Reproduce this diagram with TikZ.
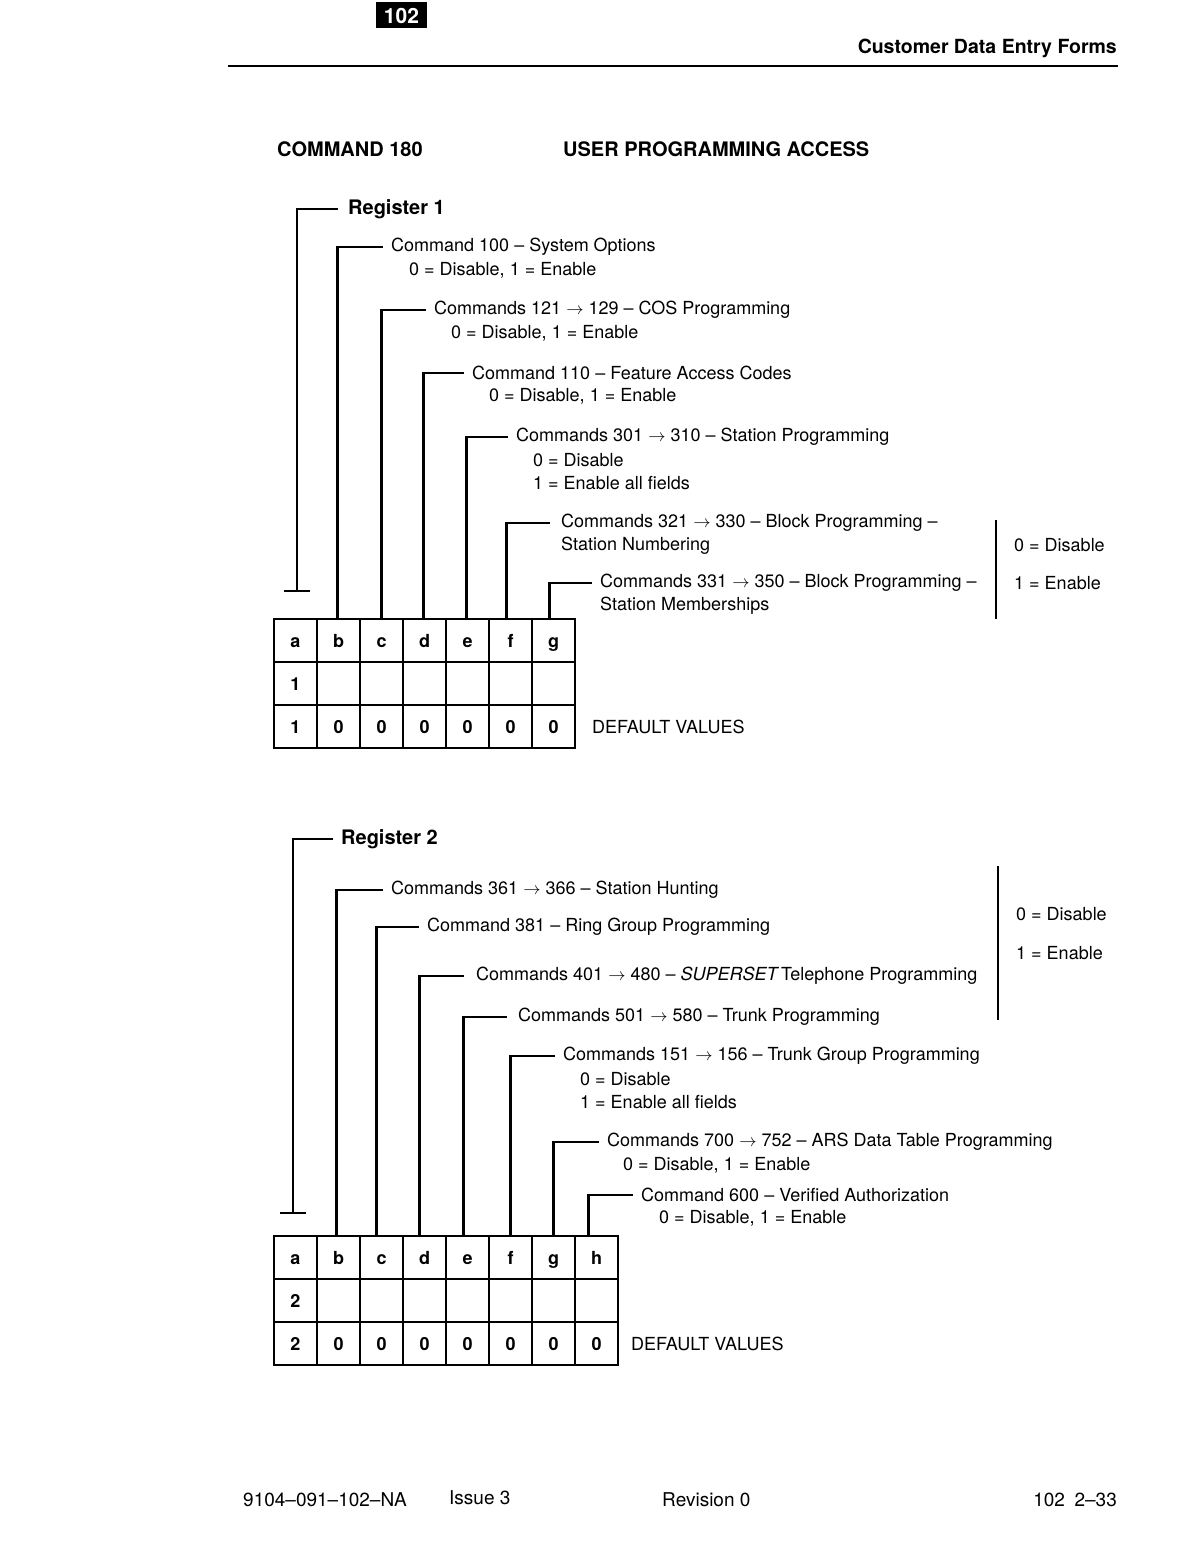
\documentclass[tikz,border=0pt]{standalone}
\usepackage{fontspec}
\setmainfont{TeX Gyre Heros}
\usetikzlibrary{positioning}

\begin{document}
\begin{tikzpicture}[x=1pt, y=-1pt, line width=2.4pt]
    % Stili
    \tikzset{
      txt/.style={anchor=west, inner sep=0pt, font=\fontsize{18}{20}\selectfont},
      bold/.style={anchor=west, inner sep=0pt, font=\fontsize{20}{22}\selectfont\bfseries},
      foot/.style={anchor=west, inner sep=0pt, font=\fontsize{19}{21}\selectfont},
      cell/.style={draw, minimum width=43pt, minimum height=43pt, inner sep=0pt, outer sep=0pt, text height=16pt, text depth=2pt, font=\fontsize{18}{20}\selectfont\bfseries},
      link/.style={line width=2.4pt, shorten >=7pt},
      tbar/.style={line width=2.4pt}
    }
    \useasboundingbox (0,0) rectangle (1192,1568);

    % Intestazione
    \node (badge) [fill=black, text=white, minimum width=51pt, minimum height=26pt, inner sep=0pt, font=\fontsize{21}{22}\selectfont\bfseries] at (401.5,15.5) {102};
    \node (title) [bold, anchor=east, font=\fontsize{19.5}{22}\selectfont\bfseries] at (1118,48) {Customer Data Entry Forms};
    \draw [line width=2pt] (228,66) -- (1118,66);
    \node (cmd) [bold] at (276,149) {COMMAND 180};
    \node (upa) [bold] at (562,149) {USER PROGRAMMING ACCESS};

    % Registro 1 - celle
    \foreach \l [count=\i] in {a,b,c,d,e,f,g} {
      \node (c1-\l) [cell] at (252.5+43*\i,640.5) {\l};
      \node (d1-\l) [cell] at (252.5+43*\i,683.5) {};
      \node (v1-\l) [cell] at (252.5+43*\i,726.5) {0};
    }
    \node at (d1-a) [cell, draw=none] {1};
    \node at (v1-a) [cell, draw=none, fill=white, minimum width=30pt, minimum height=30pt] {1};
    \node (def1) [txt, right=16pt of v1-g] {DEFAULT VALUES};

    % Registro 1 - testi
    \node (reg1) [bold] at (347,209) {Register 1};
    \node (t1b) [txt] at (390,247) {Command 100 -- System Options};
    \node (t1b1) [txt] at (408,270) {0 = Disable, 1 = Enable};
    \node (t1c) [txt] at (433,310) {Commands 121 $\rightarrow$ 129 -- COS Programming};
    \node (t1c1) [txt] at (450,333) {0 = Disable, 1 = Enable};
    \node (t1d) [txt] at (471,373) {Command 110 -- Feature Access Codes};
    \node (t1d1) [txt] at (488,396) {0 = Disable, 1 = Enable};
    \node (t1e) [txt] at (515,437) {Commands 301 $\rightarrow$ 310 -- Station Programming};
    \node (t1e1) [txt] at (532,460) {0 = Disable};
    \node (t1e2) [txt] at (532,483) {1 = Enable all fields};
    \node (t1f) [txt] at (560,523) {Commands 321 $\rightarrow$ 330 -- Block Programming --};
    \node (t1f1) [txt] at (560,546) {Station Numbering};
    \node (t1g) [txt] at (599,583) {Commands 331 $\rightarrow$ 350 -- Block Programming --};
    \node (t1g1) [txt] at (599,606) {Station Memberships};
    \node (o1) [txt] at (1013,545) {0 = Disable};
    \node (e1) [txt] at (1013,583) {1 = Enable};
    \draw (996,520) -- (996,619);

    % Registro 1 - collegamenti
    \coordinate (r1foot) at (297,591);
    \draw [link, shorten >=9pt] (r1foot) |- (reg1.west);
    \draw [tbar] ([xshift=-13pt]r1foot) -- ([xshift=13pt]r1foot);
    \draw [link] ([xshift=-1pt]c1-b.north) |- (t1b.west);
    \draw [link] (c1-c.north) |- (t1c.west);
    \draw [link] ([xshift=-1pt]c1-d.north) |- (t1d.west);
    \draw [link] ([xshift=-1pt]c1-e.north) |- (t1e.west);
    \draw [link, shorten >=10pt] ([xshift=-4pt]c1-f.north) |- (t1f.west);
    \draw [link] ([xshift=-4pt]c1-g.north) |- (t1g.west);

    % Registro 2 - celle
    \foreach \l [count=\i] in {a,b,c,d,e,f,g,h} {
      \node (c2-\l) [cell] at (252.5+43*\i,1257.5) {\l};
      \node (d2-\l) [cell] at (252.5+43*\i,1300.5) {};
      \node (v2-\l) [cell] at (252.5+43*\i,1343.5) {0};
    }
    \node at (d2-a) [cell, draw=none] {2};
    \node at (v2-a) [cell, draw=none, fill=white, minimum width=30pt, minimum height=30pt] {2};
    \node (def2) [txt, right=12pt of v2-h] {DEFAULT VALUES};

    % Registro 2 - testi
    \node (reg2) [bold] at (340,839) {Register 2};
    \node (t2b) [txt] at (390,890) {Commands 361 $\rightarrow$ 366 -- Station Hunting};
    \node (t2c) [txt] at (426,927) {Command 381 -- Ring Group Programming};
    \node (t2d) [txt] at (475,976) {Commands 401 $\rightarrow$ 480 -- \textit{SUPERSET}\hspace{2pt}Telephone Programming};
    \node (t2e) [txt] at (517,1017) {Commands 501 $\rightarrow$ 580 -- Trunk Programming};
    \node (t2f) [txt] at (562,1056) {Commands 151 $\rightarrow$ 156 -- Trunk Group Programming};
    \node (t2f1) [txt] at (579,1079) {0 = Disable};
    \node (t2f2) [txt] at (579,1102) {1 = Enable all fields};
    \node (t2g) [txt] at (606,1142) {Commands 700 $\rightarrow$ 752 -- ARS Data Table Programming};
    \node (t2g1) [txt] at (622,1165) {0 = Disable, 1 = Enable};
    \node (t2h) [txt] at (640,1195) {Command 600 -- Verified Authorization};
    \node (t2h1) [txt] at (658,1218) {0 = Disable, 1 = Enable};
    \node (o2) [txt] at (1015,914) {0 = Disable};
    \node (e2) [txt] at (1015,953) {1 = Enable};
    \draw (998,866) -- (998,1020);

    % Registro 2 - collegamenti
    \coordinate (r2foot) at (293,1213);
    \draw [link] (r2foot) |- (reg2.west);
    \draw [tbar] ([xshift=-13pt]r2foot) -- ([xshift=13pt]r2foot);
    \draw [link] ([xshift=-2pt]c2-b.north) |- (t2b.west);
    \draw [link] ([xshift=-5pt]c2-c.north) |- (t2c.west);
    \draw [link, shorten >=11pt] ([xshift=-5pt]c2-d.north) |- (t2d.west);
    \draw [link, shorten >=10pt] ([xshift=-4pt]c2-e.north) |- (t2e.west);
    \draw [link] (c2-f.north) |- (t2f.west);
    \draw [link] (c2-g.north) |- (t2g.west);
    \draw [link] ([xshift=-8pt]c2-h.north) |- (t2h.west);

    % Piè di pagina
    \node (docno) [foot] at (242,1500) {9104--091--102--NA};
    \node (issue) [foot] at (448,1498) {Issue 3};
    \node (rev) [foot] at (661,1500) {Revision 0};
    \node (page) [foot, anchor=east] at (1118,1500) {102\enspace 2--33};
\end{tikzpicture}
\end{document}
